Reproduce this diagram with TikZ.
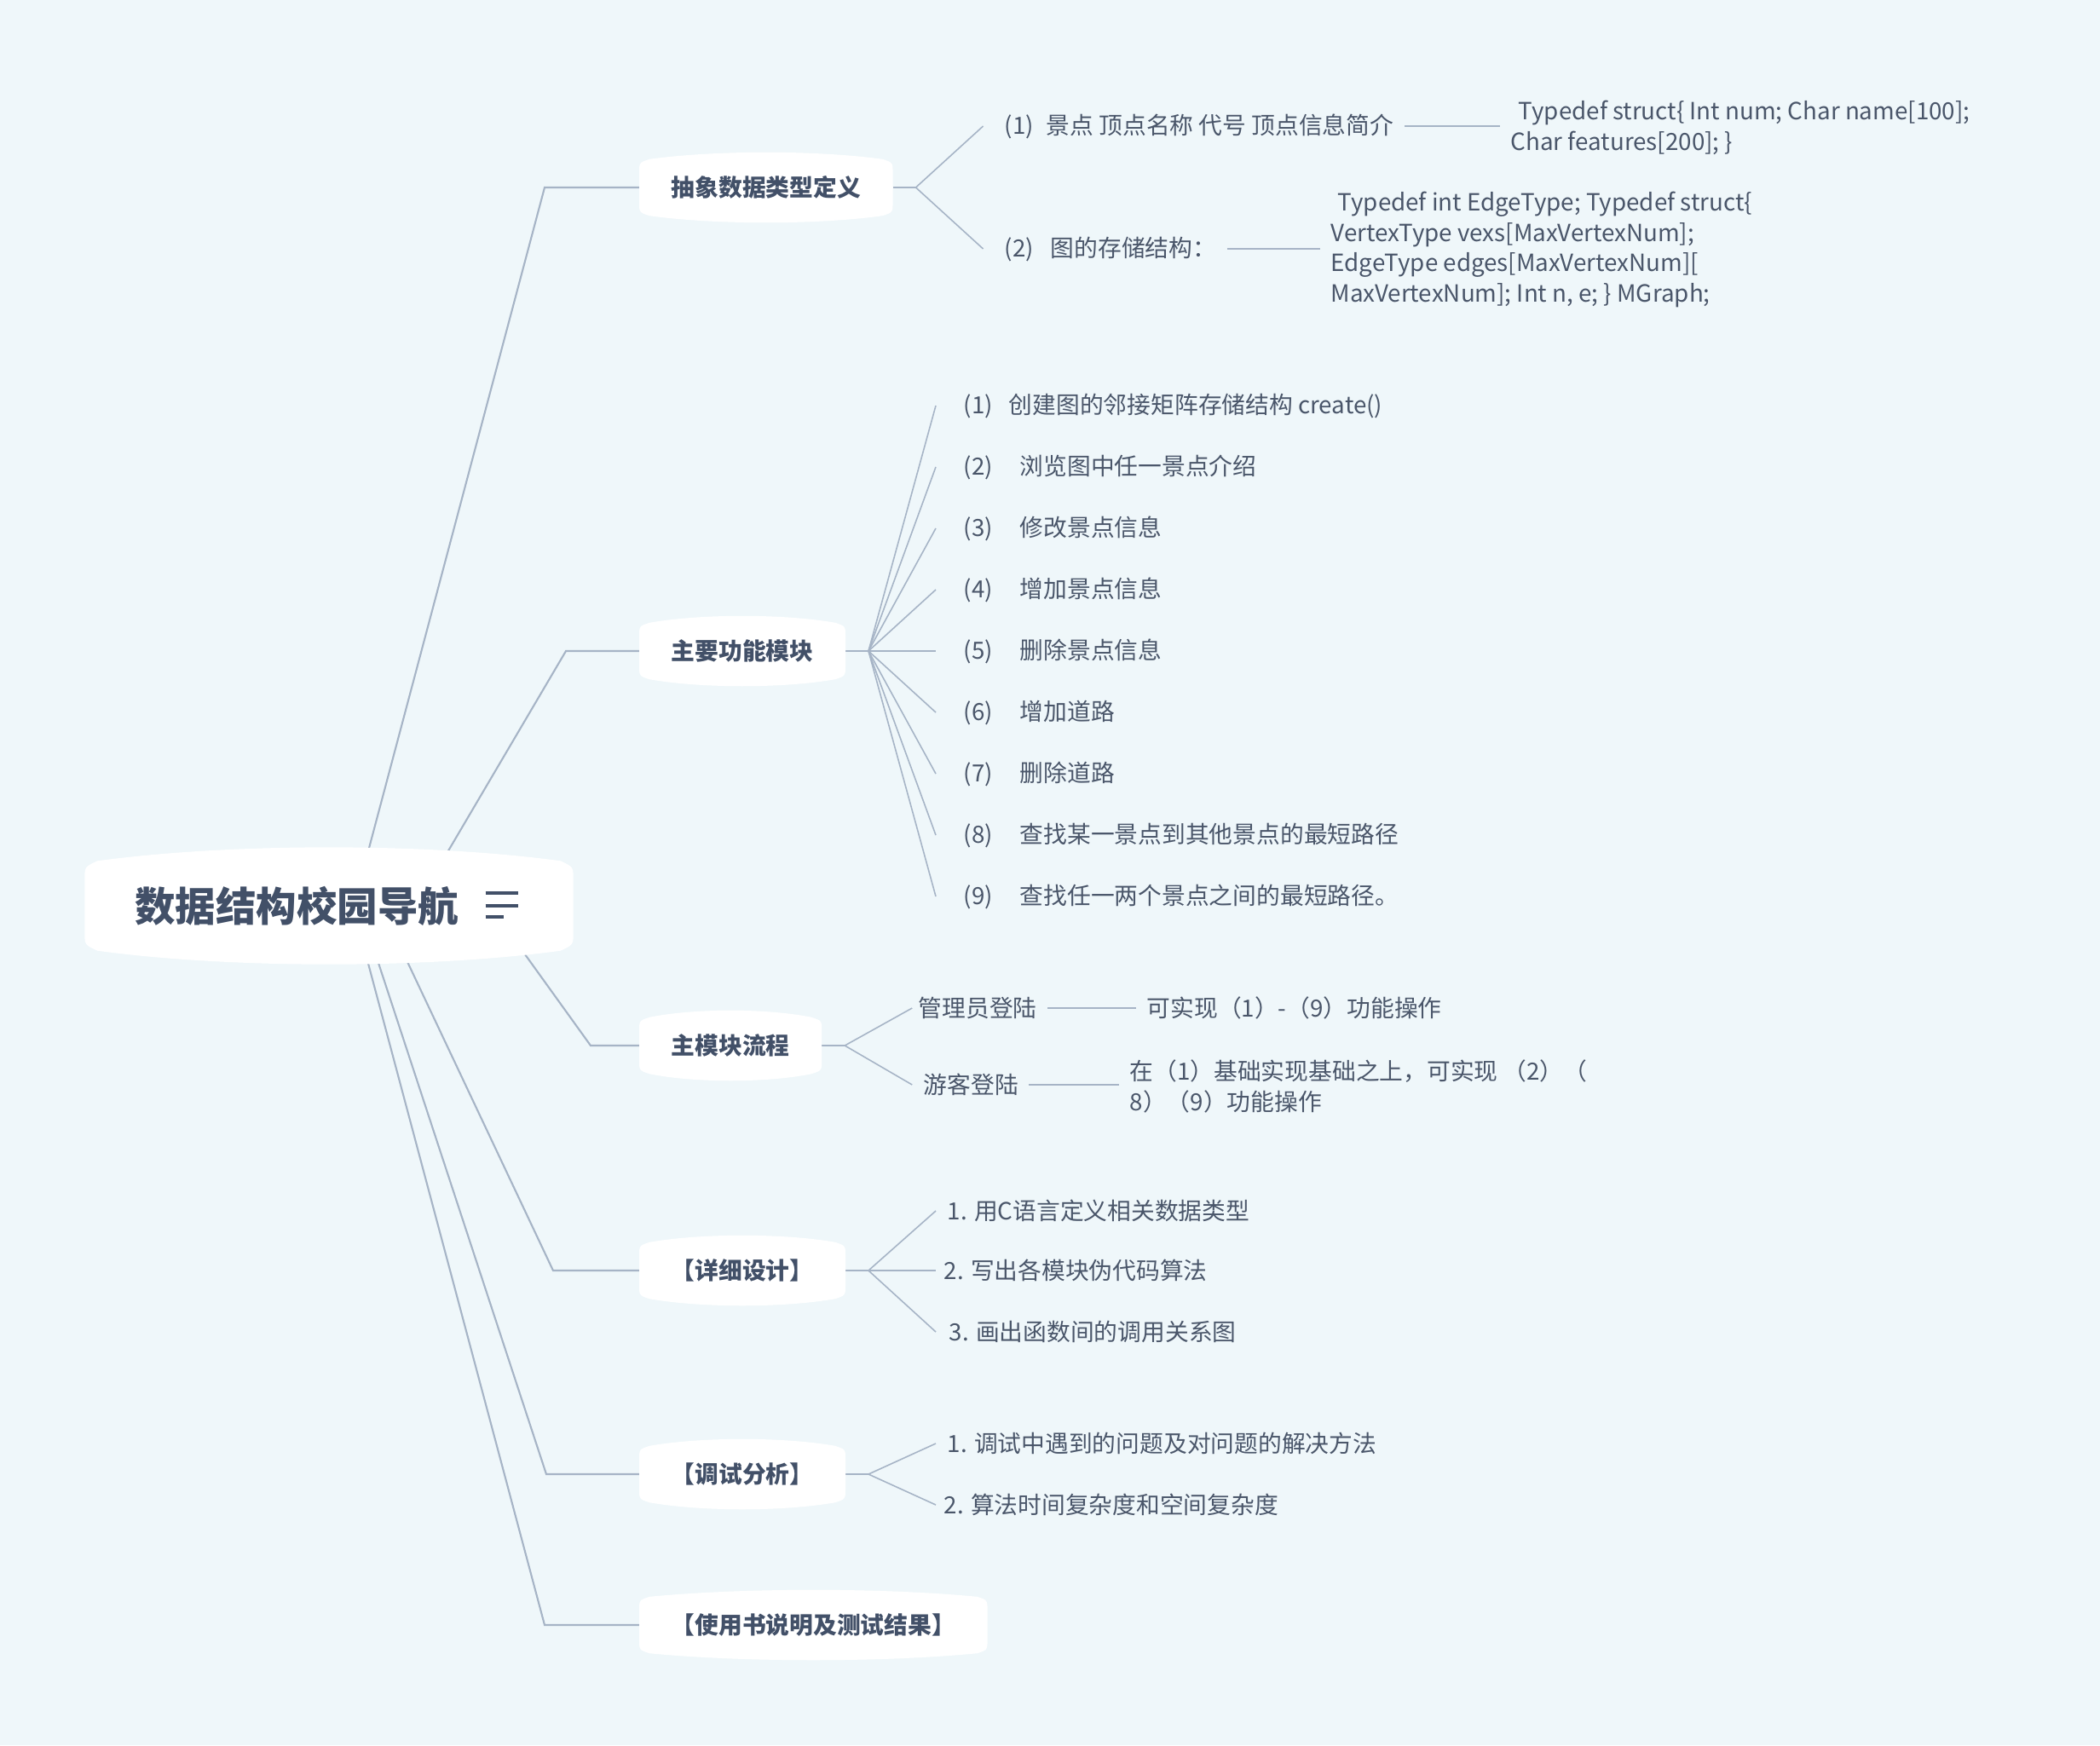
\documentclass[tikz,border=0pt]{standalone}
\usepackage{fontspec}
\setmainfont{Noto Sans CJK SC}
\usetikzlibrary{calc}

\definecolor{bgcol}{RGB}{239,247,250}
\definecolor{linecol}{RGB}{166,180,198}
\definecolor{inkcol}{RGB}{66,80,104}
\definecolor{leafink}{RGB}{74,86,106}

\pgfdeclarelayer{lines}
\pgfdeclarelayer{pads}
\pgfsetlayers{lines,pads,main}

\newcommand\leafsize{\fontsize{7.9}{10.1}\selectfont}
% white pad with bulging top and bottom: #1 node, #2 corner, #3 dip, #4 lift
\newcommand\padshape[4]{%
  \fill[white] ([yshift=-#2]#1.north west) -- ([yshift=#2]#1.south west)
    .. controls (#1.south west) .. ([xshift=#2,yshift=-#3]#1.south west)
    .. controls ([yshift=-#4]$(#1.south west)!0.3!(#1.south east)$) and ([yshift=-#4]$(#1.south west)!0.7!(#1.south east)$) .. ([xshift=-#2,yshift=-#3]#1.south east)
    .. controls (#1.south east) .. ([yshift=#2]#1.south east)
    -- ([yshift=-#2]#1.north east)
    .. controls (#1.north east) .. ([xshift=-#2,yshift=#3]#1.north east)
    .. controls ([yshift=#4]$(#1.north west)!0.7!(#1.north east)$) and ([yshift=#4]$(#1.north west)!0.3!(#1.north east)$) .. ([xshift=#2,yshift=#3]#1.north west)
    .. controls (#1.north west) .. cycle;}

\begin{document}
\begin{tikzpicture}[
  rootnode/.style={minimum width=5.72cm, minimum height=0.90cm, inner sep=0pt,
                   text=inkcol, font=\fontsize{13.5}{16}\selectfont\bfseries},
  topic/.style   ={anchor=west, minimum height=0.57cm, inner xsep=0.37cm, inner ysep=0pt,
                   text=inkcol, font=\fontsize{7.9}{10}\selectfont\bfseries},
  leaf/.style    ={anchor=west, inner xsep=0.12cm, inner ysep=2pt, align=left,
                   text=leafink, font=\leafsize},
  branch/.style  ={draw=linecol, line width=0.6pt},
  stub/.style    ={draw=linecol, line width=0.75pt},
  twig/.style    ={draw=linecol, line width=0.45pt}
]
\begin{pgfonlayer}{lines}
\fill[bgcol] (0,0) rectangle (24.64,-20.48);
\end{pgfonlayer}
\useasboundingbox (0,0) rectangle (24.64,-20.48);

%%% ---- root and main topics ---------------------------------------------
\node[rootnode] (root) at (3.86,-10.63) {\makebox[4.55cm][l]{数据结构校园导航}};
% note icon
\draw[inkcol, line width=1.1pt] ([xshift=-1.03cm,yshift=0.15cm]root.east) -- ++(0.38,0)
                                ([xshift=-1.03cm]root.east) -- ++(0.38,0)
                                ([xshift=-1.03cm,yshift=-0.13cm]root.east) -- ++(0.21,0);

\node[topic] (adt)    at (7.5,-2.20)  {抽象数据类型定义};
\node[topic] (func)   at (7.5,-7.64)  {主要功能模块};
\node[topic] (flow)   at (7.5,-12.27) {主模块流程};
\node[topic] (design) at (7.5,-14.91) {【详细设计】};
\node[topic] (debug)  at (7.5,-17.30) {【调试分析】};
\node[topic] (manual) at (7.5,-19.07) {【使用书说明及测试结果】};

%%% ---- leaves -------------------------------------------------------------
% abstract data types
\node[leaf] (adt1)  at (11.66,-1.48) {(1)\hspace{1.5mm}景点 顶点名称 代号 顶点信息简介};
\node[leaf] (adt2)  at (11.66,-2.92) {(2)\hspace{2mm}图的存储结构：};
\node[leaf] (adt1c) at (17.60,-1.50) {\hspace{0.9mm}Typedef struct\{ Int num; Char name[100];\\Char features[200]; \}};
\node[leaf] (adt2c) at (15.49,-2.93) {\hspace{0.8mm}Typedef int EdgeType; Typedef struct\{\\VertexType vexs[MaxVertexNum];\\EdgeType edges[MaxVertexNum][\\MaxVertexNum]; Int n, e; \} MGraph;};

% function modules
\foreach \i/\txt in {1/{(1)\hspace{1.9mm}创建图的邻接矩阵存储结构 create()},
                     2/{(2)\hspace{3.2mm}浏览图中任一景点介绍},
                     3/{(3)\hspace{3.2mm}修改景点信息},
                     4/{(4)\hspace{3.2mm}增加景点信息},
                     5/{(5)\hspace{3.2mm}删除景点信息},
                     6/{(6)\hspace{3.2mm}增加道路},
                     7/{(7)\hspace{3.2mm}删除道路},
                     8/{(8)\hspace{3.2mm}查找某一景点到其他景点的最短路径},
                     9/{(9)\hspace{3.2mm}查找任一两个景点之间的最短路径。}}
  \node[leaf] (f\i) at (11.18,{-4.76-0.72*(\i-1)}) {\txt};

% main flow
\node[leaf] (admin)  at (10.65,-11.83) {管理员登陆};
\node[leaf] (adminr) at (13.33,-11.83) {可实现（1）-（9）功能操作};
\node[leaf] (guest)  at (10.71,-12.73) {游客登陆};
\node[leaf] (guestr) at (13.13,-12.75) {在（1）基础实现基础之上，可实现 （2）（\\8）（9）功能操作};

% detailed design
\node[leaf] (d1) at (10.99,-14.21) {1. 用C语言定义相关数据类型};
\node[leaf] (d2) at (10.95,-14.91) {2. 写出各模块伪代码算法};
\node[leaf] (d3) at (11.01,-15.63) {3. 画出函数间的调用关系图};

% debugging
\node[leaf] (g1) at (10.99,-16.94) {1. 调试中遇到的问题及对问题的解决方法};
\node[leaf] (g2) at (10.95,-17.66) {2. 算法时间复杂度和空间复杂度};

%%% ---- white pads behind root and topics --------------------------------
\begin{pgfonlayer}{pads}
\padshape{root}{0.15cm}{0.07cm}{0.283cm}
\foreach \n in {adt,func,flow,design,debug,manual}
  {\padshape{\n}{0.12cm}{0.04cm}{0.147cm}}
\end{pgfonlayer}

%%% ---- connectors ---------------------------------------------------------
\begin{pgfonlayer}{lines}
% root to topics (start hidden under the root pad)
\foreach \n/\sx/\ex in {adt/0.29/1.11, func/1.02/0.86, flow/1.89/0.57,
                        design/0.61/1.01, debug/0.36/1.09, manual/0.28/1.11}
  \draw[branch] ([xshift=\sx cm]root.center) -- ([xshift=-\ex cm]\n.west) -- (\n.west);

% topic stubs and forks
\foreach \n in {adt,func,flow,design,debug} {
  \draw[stub] (\n.east) -- ++(0.27,0) coordinate (\n F);
  \path (\n F) ++(0.79,0) coordinate (\n E);
}
\foreach \n/\l in {adt/adt1, adt/adt2, flow/admin, flow/guest,
                   design/d1, design/d2, design/d3, debug/g1, debug/g2}
  \draw[twig] (\n F) -- (\n E |- \l.west);
\foreach \i in {1,...,9}
  \draw[twig] (funcF) -- (funcE |- f\i.west);

% leaf to detail
\draw[twig] (adt1.east)  -- (adt1.east -| adt1c.west);
\draw[twig] (adt2.east)  -- (adt2.east -| adt2c.west);
\draw[twig] (admin.east) -- (admin.east -| adminr.west);
\draw[twig] (guest.east) -- (guest.east -| guestr.west);
\end{pgfonlayer}

\end{tikzpicture}
\end{document}
